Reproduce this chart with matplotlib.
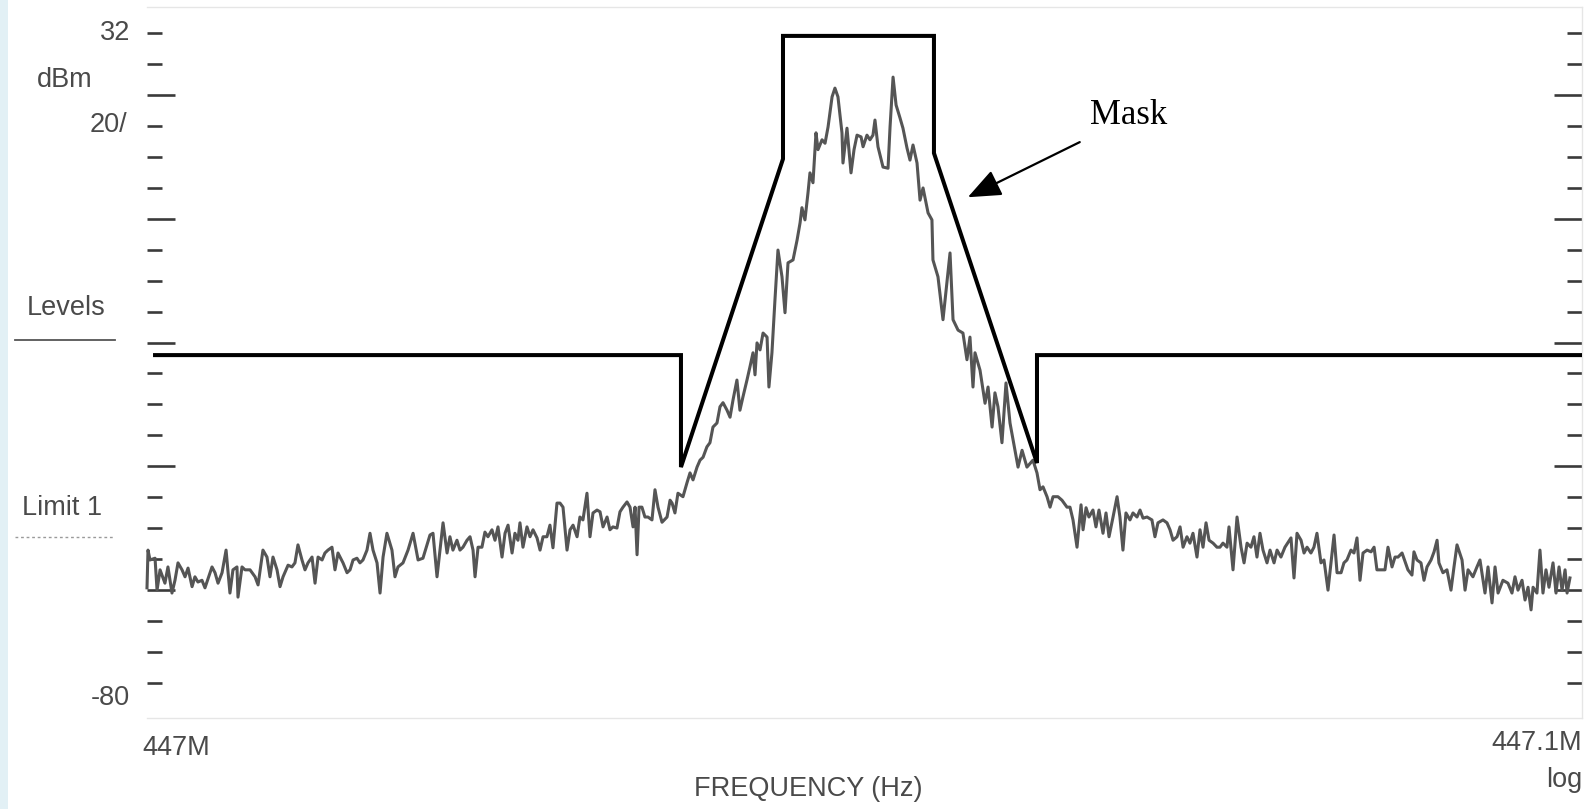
import numpy as np
import matplotlib
matplotlib.use("Agg")
import matplotlib.pyplot as plt
from matplotlib.patches import Rectangle
from matplotlib.lines import Line2D

# ---------------- data ----------------
# spectrum trace: frequency offset from 447 MHz (kHz) and level (dBm)
trace_khz = [
    0.00, 0.07, 0.21, 0.56, 0.70, 0.91, 1.25, 1.46, 1.74, 1.95,
    2.16, 2.44, 2.65, 2.86, 3.14, 3.34, 3.55, 3.83, 4.04, 4.53,
    4.74, 4.95, 5.23, 5.51, 5.78, 5.99, 6.27, 6.34, 6.62, 6.83,
    7.18, 7.53, 7.74, 8.08, 8.36, 8.57, 8.78, 9.06, 9.27, 9.48,
    9.83, 10.10, 10.31, 10.52, 10.80, 11.01, 11.22, 11.50, 11.71, 11.92,
    12.20, 12.40, 12.61, 12.89, 13.10, 13.31, 13.66, 13.94, 14.15, 14.36,
    14.63, 14.84, 15.05, 15.33, 15.54, 15.75, 16.03, 16.24, 16.45, 16.72,
    17.07, 17.28, 17.49, 17.84, 18.19, 18.54, 18.89, 19.23, 19.72, 19.93,
    20.21, 20.42, 20.63, 20.91, 21.11, 21.32, 21.60, 21.81, 22.02, 22.30,
    22.51, 22.72, 22.86, 23.07, 23.34, 23.55, 23.76, 24.04, 24.25, 24.46,
    24.74, 24.95, 25.16, 25.44, 25.64, 25.85, 25.99, 26.20, 26.48, 26.69,
    26.90, 27.18, 27.39, 27.60, 27.87, 28.08, 28.29, 28.57, 28.78, 28.99,
    29.27, 29.48, 29.69, 29.97, 30.17, 30.38, 30.66, 30.87, 31.08, 31.36,
    31.57, 31.78, 32.06, 32.26, 32.47, 32.75, 32.96, 33.17, 33.45, 33.66,
    33.87, 34.01, 34.15, 34.29, 34.49, 34.70, 34.91, 35.19, 35.40, 35.61,
    35.89, 36.24, 36.45, 36.59, 36.79, 37.00, 37.35, 37.63, 37.84, 38.05,
    38.33, 38.54, 38.75, 39.02, 39.23, 39.44, 39.72, 39.93, 40.14, 40.42,
    40.63, 40.84, 41.11, 41.32, 41.53, 41.81, 42.02, 42.23, 42.37, 42.51,
    42.72, 42.93, 43.21, 43.34, 43.55, 43.76, 43.97, 44.25, 44.46, 44.67,
    45.02, 45.30, 45.51, 45.64, 45.85, 46.06, 46.20, 46.41, 46.62, 46.76,
    47.04, 47.25, 47.46, 47.74, 47.94, 48.15, 48.43, 48.50, 48.78, 49.06,
    49.27, 49.48, 49.76, 49.90, 50.17, 50.38, 50.59, 50.73, 50.94, 51.29,
    51.64, 51.78, 51.99, 52.20, 52.47, 52.68, 52.96, 53.17, 53.38, 53.66,
    53.87, 54.08, 54.43, 54.70, 54.77, 55.12, 55.47, 55.96, 56.17, 56.52,
    56.86, 57.14, 57.35, 57.56, 57.70, 58.05, 58.40, 58.61, 58.89, 59.09,
    59.30, 59.58, 59.86, 60.14, 60.49, 60.70, 60.98, 61.32, 61.74, 62.02,
    62.23, 62.44, 62.72, 62.93, 63.14, 63.48, 63.76, 64.11, 64.32, 64.53,
    64.81, 65.09, 65.23, 65.44, 65.64, 65.92, 66.13, 66.34, 66.62, 66.83,
    67.04, 67.32, 67.60, 67.80, 68.01, 68.22, 68.50, 68.71, 68.99, 69.20,
    69.41, 69.69, 70.03, 70.24, 70.45, 70.80, 71.08, 71.29, 71.50, 71.78,
    71.99, 72.20, 72.47, 72.68, 72.89, 73.17, 73.38, 73.59, 73.80, 74.01,
    74.29, 74.56, 74.77, 74.98, 75.26, 75.40, 75.68, 75.96, 76.24, 76.45,
    76.66, 76.93, 77.14, 77.35, 77.56, 77.77, 78.05, 78.26, 78.54, 78.75,
    79.02, 79.30, 79.72, 79.93, 80.14, 80.42, 80.63, 80.84, 81.11, 81.32,
    81.53, 81.81, 82.02, 82.30, 82.51, 82.72, 82.93, 83.21, 83.41, 83.62,
    83.90, 84.11, 84.32, 84.53, 84.74, 85.02, 85.30, 85.51, 85.71, 86.06,
    86.27, 86.48, 86.76, 86.97, 87.18, 87.46, 87.67, 87.87, 88.15, 88.29,
    88.50, 88.78, 88.99, 89.20, 89.48, 89.69, 89.90, 90.03, 90.31, 90.59,
    90.87, 91.08, 91.29, 91.64, 91.85, 92.06, 92.40, 92.68, 92.89, 93.24,
    93.45, 93.73, 93.94, 94.15, 94.49, 94.84, 95.12, 95.33, 95.54, 95.82,
    96.03, 96.24, 96.45, 96.59, 96.86, 97.07, 97.28, 97.49, 97.70, 97.98,
    98.19, 98.40, 98.61, 98.82, 98.96, 99.16,
]
trace_dbm = [
    -63.6, -57.1, -58.8, -58.5, -64.0, -60.5, -62.8, -60.0, -64.5, -62.3,
    -59.3, -60.5, -61.7, -60.2, -63.4, -61.7, -62.6, -62.3, -63.6, -60.0,
    -61.0, -62.8, -61.0, -57.1, -64.5, -60.5, -60.0, -65.2, -60.0, -60.5,
    -60.5, -61.7, -63.1, -57.1, -58.3, -61.7, -58.3, -60.5, -63.4, -61.7,
    -59.7, -60.0, -59.3, -56.2, -58.8, -60.5, -59.3, -58.3, -62.8, -58.3,
    -58.8, -57.6, -57.1, -56.6, -60.5, -57.6, -59.3, -61.0, -60.5, -58.8,
    -58.5, -59.3, -58.8, -57.1, -54.2, -57.1, -59.3, -64.5, -58.3, -54.2,
    -57.1, -61.7, -60.0, -59.3, -57.1, -54.2, -58.8, -58.5, -54.5, -54.2,
    -61.7, -57.1, -52.4, -57.6, -54.8, -57.1, -55.4, -57.1, -56.6, -55.4,
    -54.8, -57.1, -61.7, -56.6, -56.6, -54.0, -54.8, -53.6, -55.4, -53.1,
    -58.3, -54.2, -52.8, -57.6, -54.2, -55.4, -52.4, -56.6, -53.1, -54.8,
    -53.6, -55.0, -57.1, -54.8, -54.8, -52.8, -56.7, -49.0, -49.0, -49.7,
    -57.1, -53.6, -52.8, -54.8, -51.4, -51.9, -47.3, -54.8, -50.7, -50.2,
    -50.5, -53.1, -51.4, -53.6, -53.1, -53.3, -50.5, -49.7, -48.8, -49.7,
    -53.1, -49.7, -57.9, -49.7, -49.7, -51.4, -51.4, -51.9, -46.7, -49.7,
    -52.3, -51.4, -48.5, -49.0, -50.7, -47.3, -47.9, -45.5, -43.8, -45.0,
    -42.8, -41.6, -41.1, -39.3, -38.6, -35.9, -35.2, -32.4, -31.7, -33.0,
    -34.2, -31.2, -27.8, -33.0, -30.7, -27.8, -25.5, -23.1, -26.9, -21.4,
    -22.6, -19.7, -20.4, -29.0, -23.1, -14.0, -5.4, -10.0, -16.2, -7.6,
    -7.1, -3.7, -0.7, 1.9, -0.2, 4.4, 7.9, 6.2, 14.8, 11.9,
    13.6, 13.0, 15.8, 21.0, 22.5, 21.0, 14.8, 9.6, 15.6, 7.9,
    11.9, 14.4, 14.1, 12.4, 14.4, 13.6, 14.4, 17.0, 12.4, 8.9,
    8.7, 15.8, 24.4, 19.6, 17.4, 15.6, 12.2, 10.1, 12.7, 9.6,
    3.2, 5.3, 1.0, -0.2, -7.1, -10.0, -17.4, -5.9, -17.4, -19.2,
    -19.7, -24.3, -20.4, -29.0, -23.1, -26.1, -31.8, -29.0, -35.9, -30.0,
    -32.4, -38.6, -28.3, -35.2, -39.9, -42.8, -39.9, -42.8, -41.6, -43.8,
    -46.7, -46.2, -47.9, -49.7, -47.9, -47.9, -48.5, -49.7, -49.7, -51.9,
    -56.6, -49.3, -53.6, -49.8, -51.4, -50.2, -53.1, -50.2, -54.2, -50.7,
    -54.8, -51.4, -47.9, -51.4, -57.1, -50.7, -51.9, -50.7, -51.4, -50.2,
    -51.6, -51.4, -51.9, -54.8, -52.4, -51.9, -52.4, -53.6, -55.4, -54.8,
    -53.1, -56.6, -54.8, -55.9, -54.2, -58.3, -53.6, -56.6, -52.4, -55.4,
    -55.9, -56.6, -56.6, -55.9, -56.6, -53.1, -60.5, -51.4, -56.6, -59.3,
    -55.9, -56.6, -54.8, -58.3, -54.2, -57.1, -59.3, -57.1, -59.3, -57.1,
    -58.3, -56.6, -55.0, -61.9, -54.2, -55.4, -57.6, -56.6, -57.6, -56.6,
    -54.2, -59.3, -58.8, -64.0, -59.3, -54.5, -61.0, -61.0, -59.3, -58.8,
    -57.1, -57.6, -55.0, -62.3, -57.6, -57.1, -57.4, -56.6, -60.5, -60.5,
    -60.5, -56.6, -60.0, -58.3, -58.3, -57.6, -59.1, -60.5, -61.4, -57.4,
    -58.8, -59.3, -62.3, -60.0, -58.8, -57.4, -55.4, -59.3, -61.0, -60.5,
    -64.0, -60.0, -56.2, -58.8, -64.0, -60.5, -61.7, -60.0, -58.8, -64.5,
    -60.0, -66.2, -60.0, -64.5, -62.3, -62.8, -64.5, -61.7, -64.0, -62.3,
    -65.7, -63.5, -67.4, -63.5, -64.5, -57.1, -64.5, -60.5, -63.5, -59.3,
    -64.5, -60.0, -64.0, -60.5, -64.5, -61.9,
]

# spectral mask (kHz offset, dBm)
mask_khz = [0.42, 37.21, 37.21, 44.32, 44.32, 54.84, 54.84, 62.02, 62.02, 100.0]
mask_dbm = [-23.5, -23.5, -42.8, 10.3, 31.5, 31.5, 11.3, -42.1, -23.5, -23.5]

# axis texts
y_top_label, y_unit_label, y_div_label, y_bottom_label = "32", "dBm", "20/", "-80"
x_left_label, x_right_label = "447M", "447.1M"
x_title, x_scale_label = "FREQUENCY (Hz)", "log"
side_labels = ["Levels", "Limit 1"]
annot_text = "Mask"
annot_tip = (57.2, 3.7)
annot_tail = (65.0, 13.2)

# ---------------- figure ----------------
W, H = 1595, 809
fig = plt.figure(figsize=(W / 100, H / 100), dpi=100)
fig.patch.set_facecolor("white")

def fx(px):
    return px / W

def fy(py):
    return 1 - py / H

ax_l, ax_r, ax_t, ax_b = 147, 1582, 7, 718
ax = fig.add_axes([fx(ax_l), fy(ax_b), (ax_r - ax_l) / W, (ax_b - ax_t) / H])
ax.set_xlim(0, 100)
ax.set_ylim(-86.03, 36.48)

# graticule tick marks (22 marks from -80 to 32)
grat = np.linspace(-80, 32, 22)
major_idx = [3, 7, 11, 15, 19]
ax.set_yticks([grat[i] for i in major_idx])
ax.set_yticks([g for i, g in enumerate(grat) if i not in major_idx], minor=True)
ax.set_yticklabels([])
ax.set_xticks([])
tick_col = "#3a3a3a"
ax.tick_params(axis="y", which="major", direction="in", length=20, width=1.9,
               color=tick_col, left=True, right=True, labelleft=False)
ax.tick_params(axis="y", which="minor", direction="in", length=11, width=1.9,
               color=tick_col, left=True, right=True)

for side in ["top", "bottom", "right"]:
    ax.spines[side].set_color("#e6e6e6")
    ax.spines[side].set_linewidth(1.0)
ax.spines["left"].set_visible(False)

# trace
ax.plot(trace_khz, trace_dbm, color="#555555", lw=2.2, zorder=3, clip_on=False,
        solid_joinstyle="round")
# mask
ax.plot(mask_khz, mask_dbm, color="black", lw=2.9, zorder=4,
        solid_joinstyle="miter", solid_capstyle="butt")

# annotation
ax.annotate("", xy=annot_tip, xytext=annot_tail,
            arrowprops=dict(arrowstyle="-|>,head_length=0.85,head_width=0.35",
                            lw=1.6, color="black", mutation_scale=24,
                            shrinkA=0, shrinkB=0), zorder=5)
fig.text(fx(1090), fy(116), annot_text, family="Liberation Serif", fontsize=25,
         color="black", ha="left", va="center")

# labels
lab = dict(family="Liberation Sans", fontsize=19.5, color="#4a4a4a")
fig.text(fx(130), fy(33), y_top_label, ha="right", va="center", **lab)
fig.text(fx(37), fy(80), y_unit_label, ha="left", va="center", **lab)
fig.text(fx(127), fy(125), y_div_label, ha="right", va="center", **lab)
fig.text(fx(27), fy(308), side_labels[0], ha="left", va="center", **lab)
fig.text(fx(22), fy(508), side_labels[1], ha="left", va="center", **lab)
fig.text(fx(130), fy(698), y_bottom_label, ha="right", va="center", **lab)
fig.text(fx(142), fy(748), x_left_label, ha="left", va="center", **lab)
fig.text(fx(1582), fy(743), x_right_label, ha="right", va="center", **lab)
fig.text(fx(808), fy(789), x_title, ha="center", va="center", **lab)
fig.text(fx(1582), fy(780), x_scale_label, ha="right", va="center", **lab)

# legend-like underlines next to side labels
fig.add_artist(Line2D([fx(15), fx(115)], [fy(340), fy(340)], color="#555555", lw=1.3))
fig.add_artist(Line2D([fx(15), fx(115)], [fy(537), fy(537)], color="#9a9a9a", lw=1.0,
                      linestyle=(0, (2, 2))))

# faint bluish scan edge on the left
fig.add_artist(Rectangle((0, 0), fx(8), 1, transform=fig.transFigure,
                         facecolor="#e2f0f5", edgecolor="none", zorder=0))

fig.savefig("out.png", dpi=100, facecolor="white")
